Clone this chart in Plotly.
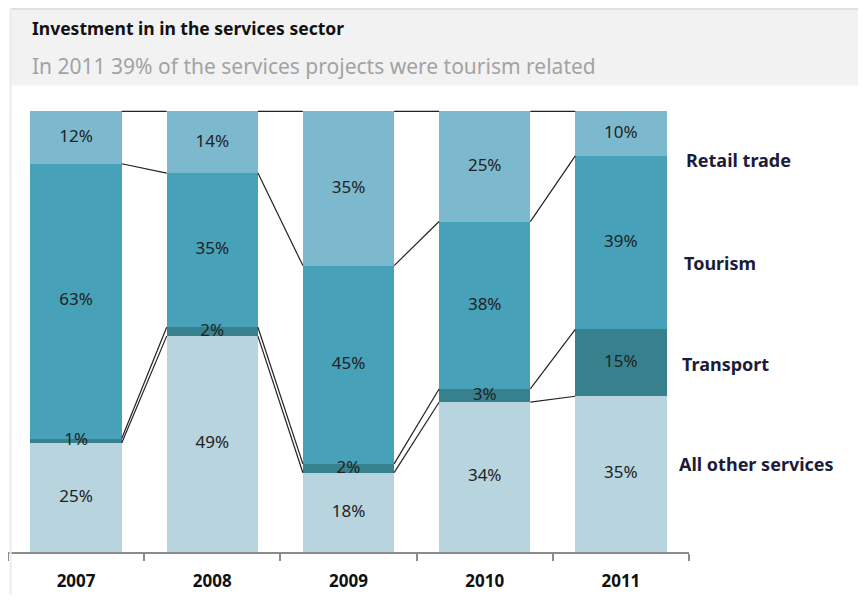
import plotly.graph_objects as go

years = ["2007", "2008", "2009", "2010", "2011"]
series = ["All other services", "Transport", "Tourism", "Retail trade"]
other = [25, 49, 18, 34, 35]
transport = [1, 2, 2, 3, 15]
tourism = [63, 35, 45, 38, 39]
retail = [12, 14, 35, 25, 10]

values = [other, transport, tourism, retail]
colors = ["#b7d4df", "#37818f", "#46a1b9", "#7cb9ce"]

OFF = 8  # browser default body margin
W, H = 866 - 2 * OFF, 603 - 2 * OFF
L, R, T = 8 - OFF, 177.4 - OFF, 106.6 - OFF
B = H - (552 - OFF)
PW, PH = W - L - R, H - T - B
YMAX = 101
BW = 0.67
FONT = "Noto Sans"


def px(xp):
    return (xp - OFF - L) / PW


def py(yp):
    return (H - B - (yp - OFF)) / PH


totals = [sum(v[i] for v in values) for i in range(len(years))]
norm = [[v[i] / totals[i] * 100 for i in range(len(years))] for v in values]

fig = go.Figure()
for name, col, nv in zip(series, colors, norm):
    fig.add_trace(go.Bar(x=years, y=nv, name=name, marker=dict(color=col, line=dict(width=0)),
                         width=BW, hoverinfo="skip", showlegend=False))

cum = []
run = [0.0] * len(years)
for nv in norm:
    lo = run[:]
    run = [a + b for a, b in zip(run, nv)]
    cum.append((lo, run[:]))

lx, ly = [], []
for k in range(len(series)):
    top = cum[k][1]
    for i in range(len(years) - 1):
        lx += [i + BW / 2, i + 1 - BW / 2, None]
        ly += [top[i], top[i + 1], None]
fig.add_trace(go.Scatter(x=lx, y=ly, xaxis="x2", mode="lines",
                         line=dict(color="#222222", width=1.2), hoverinfo="skip", showlegend=False))

tx, ty, tt = [], [], []
for k, v in enumerate(values):
    lo, hi = cum[k]
    for i in range(len(years)):
        tx.append(i)
        ty.append((lo[i] + hi[i]) / 2)
        tt.append(f"{v[i]}%")
fig.add_trace(go.Scatter(x=tx, y=ty, text=tt, xaxis="x2", mode="text",
                         textfont=dict(family=FONT, size=17, color="#222222"),
                         textposition="middle center", hoverinfo="skip", showlegend=False))

shapes = [
    dict(type="rect", xref="paper", yref="paper", x0=px(11), x1=px(880), y0=py(85), y1=py(8),
         fillcolor="#f2f2f2", line=dict(width=0), layer="below"),
    dict(type="line", xref="paper", yref="paper", x0=px(11), x1=px(880), y0=py(8.5), y1=py(8.5),
         line=dict(color="#d9d9d9", width=1.5)),
    dict(type="line", xref="paper", yref="paper", x0=px(10.5), x1=px(10.5), y0=py(620), y1=py(8),
         line=dict(color="#ebebeb", width=2)),
]

annotations = [
    dict(text="<b>Investment in in the services sector</b>", xref="paper", yref="paper",
         x=px(30), y=py(28), xanchor="left", yanchor="middle", showarrow=False,
         font=dict(family=FONT, size=17.5, color="#111111")),
    dict(text="In 2011 39% of the services projects were tourism related", xref="paper", yref="paper",
         x=px(30), y=py(66), xanchor="left", yanchor="middle", showarrow=False,
         font=dict(family=FONT, size=21, color="#a3a3a3")),
]
label_y = [20, 42.7, 65.7, 88.9]
label_x = [677, 680, 682, 684]
for name, yv, xv in zip(series, label_y, label_x):
    annotations.append(dict(text=f"<b>{name}</b>", xref="paper", yref="y", x=px(xv), y=yv,
                            xanchor="left", yanchor="middle", showarrow=False,
                            font=dict(family=FONT, size=18, color="#1c1c3a")))

fig.update_layout(
    width=W, height=H, barmode="stack",
    margin=dict(l=L, r=R, t=T, b=B, pad=0),
    paper_bgcolor="white", plot_bgcolor="white",
    xaxis=dict(type="category", tickson="boundaries", ticks="outside", ticklen=7, tickcolor="#8c8c8c",
               tickwidth=1.5, showline=True, linecolor="#8c8c8c", linewidth=1.5, showgrid=False,
               range=[-0.5, 4.5], ticklabelstandoff=13,
               tickfont=dict(family=FONT, size=17, color="#111111", weight="bold")),
    xaxis2=dict(overlaying="x", range=[-0.5, 4.5], visible=False, showgrid=False, zeroline=False),
    yaxis=dict(range=[0, YMAX], visible=False, showgrid=False, zeroline=False),
    shapes=shapes, annotations=annotations,
)

fig.write_html("out.html")
